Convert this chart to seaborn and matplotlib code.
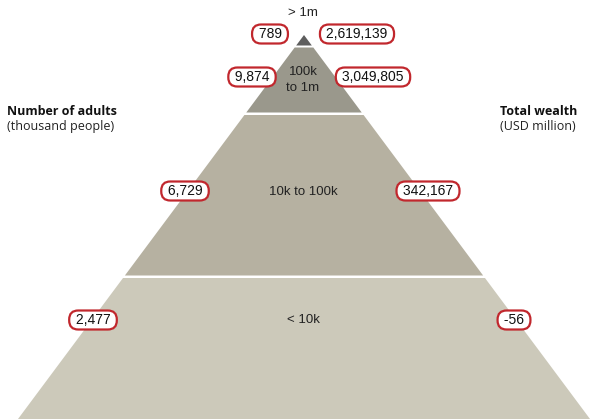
import matplotlib
matplotlib.use("Agg")
import matplotlib.pyplot as plt
import seaborn as sns

# data
tiers = ["> 1m", "100k\nto 1m", "10k to 100k", "< 10k"]
adults = ["789", "9,874", "6,729", "2,477"]
wealth = ["2,619,139", "3,049,805", "342,167", "-56"]
tier_colors = ["#5e5e5e", "#9a988c", "#b6b1a1", "#ccc9ba"]

# layout (pixel coords of the picture)
W, H = 590, 419
apex_x, apex_y = 304, 35
slope = 286 / 384
bands = [(35, 45.5), (47.5, 112.5), (115, 275.5), (278, 425)]
label_y = [34, 77, 191, 320]
tier_text_y = [13, 80, 192, 320]
left_x = [270, 252, 185, 93]
right_x = [357, 373, 428, 514]

sns.set_theme(style="white")
plt.rcParams['font.family'] = ['Liberation Sans', 'DejaVu Sans']

fig = plt.figure(figsize=(W / 100, H / 100), dpi=100)
ax = fig.add_axes([0, 0, 1, 1])
ax.set_xlim(0, W)
ax.set_ylim(H, 0)
ax.axis("off")

for (y0, y1), c in zip(bands, tier_colors):
    w0 = (y0 - apex_y) * slope
    w1 = (y1 - apex_y) * slope
    ax.fill([apex_x - w0, apex_x + w0, apex_x + w1, apex_x - w1],
            [y0, y0, y1, y1], color=c, lw=0)

for i, t in enumerate(tiers):
    ax.text(apex_x - 1, tier_text_y[i], t, ha="center", va="center",
            fontsize=9.5, color="#222222", linespacing=1.4)

box = dict(boxstyle="round,pad=0.18,rounding_size=0.65", fc="white",
           ec="#c1272d", lw=1.6)
for i in range(len(tiers)):
    ax.text(left_x[i], label_y[i], " " + adults[i] + " ", ha="center",
            va="center", fontsize=10, color="#111111", bbox=box)
    ax.text(right_x[i], label_y[i], " " + wealth[i] + " ", ha="center",
            va="center", fontsize=10, color="#111111", bbox=box)

hf = ['Open Sans', 'DejaVu Sans']
ax.text(7, 111, "Number of adults", fontsize=9, fontweight="bold",
        family=hf, va="center", color="#111111")
ax.text(7, 126, "(thousand people)", fontsize=9, family=hf, va="center",
        color="#222222")
ax.text(500, 111, "Total wealth", fontsize=9, fontweight="bold",
        family=hf, va="center", color="#111111")
ax.text(500, 126, "(USD million)", fontsize=9, family=hf, va="center",
        color="#222222")

fig.savefig("out.png", dpi=100)
